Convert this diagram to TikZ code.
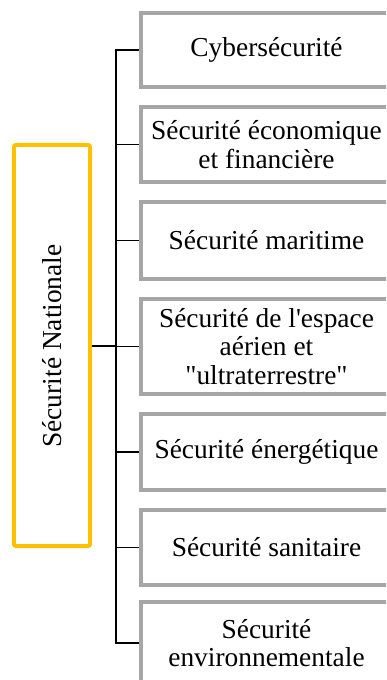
\documentclass[tikz,border=0pt]{standalone}
\usepackage{fontspec}
\setmainfont{Liberation Serif}[Ligatures=TeXOff]
\definecolor{boxgray}{HTML}{A6A6A6}
\definecolor{natyellow}{HTML}{FFC000}
\begin{document}
\begin{tikzpicture}[x=1bp,y=-1bp,
  secbox/.style={minimum width=270bp, inner sep=0pt, outer sep=0pt},
  boxline/.style={draw=boxgray, line width=4bp, line join=miter},
  sectext/.style={align=center, font=\fontsize{27.5}{28.5}\selectfont, text=black, inner sep=0pt},
  natbox/.style={draw=natyellow, line width=4bp, rounded corners=2bp, minimum width=76bp,
    minimum height=401bp, inner sep=0pt},
  conn/.style={draw=black, line width=1.1bp},
  mainconn/.style={draw=black, line width=2bp}]
\fill[white] (0,0) rectangle (386,680);
\useasboundingbox (0,0) rectangle (386,680);
\clip (0,0) rectangle (386,680);
\node[natbox] (nat) at (52,345.5) {};
\node[rotate=90, font=\fontsize{27.5}{28.5}\selectfont] (natlabel) at (52,346) {Sécurité Nationale};
\node[secbox, minimum height=74bp] (b1) at (276,50) {};
\node[secbox, minimum height=75bp] (b2) at (276,144.5) {};
\node[secbox, minimum height=77bp] (b3) at (276,240.5) {};
\node[secbox, minimum height=95bp] (b4) at (276,346.5) {};
\node[secbox, minimum height=76bp] (b5) at (276,452) {};
\node[secbox, minimum height=75bp] (b6) at (276,547.5) {};
\node[secbox, minimum height=82bp] (b7) at (276,643) {};
\foreach \b in {b1,b2,b3,b4,b5,b6,b7} {
  \draw[boxline] (\b.north east) -- (\b.north west) -- (\b.south west) -- (\b.south east);}
\node[sectext] (t1) at (266.5,50) {Cybersécurité};
\node[sectext] (t2) at (266.5,144.5) {Sécurité économique\\et financière};
\node[sectext] (t3) at (266.5,240.5) {Sécurité maritime};
\node[sectext] (t4) at (266.5,346.5) {Sécurité de l'espace\\aérien et\\"ultraterrestre"};
\node[sectext] (t5) at (266.5,452) {Sécurité énergétique};
\node[sectext] (t6) at (266.5,547.5) {Sécurité sanitaire};
\node[sectext] (t7) at (266.5,643) {Sécurité\\environnementale};
\coordinate (spine) at (116,0);
\draw[conn] ([xshift=-2bp]b1.west) -- (b1.west -| spine) |- ([xshift=-2bp]b7.west);
\foreach \b in {b2,b3,b4,b5,b6} {\draw[conn] ([xshift=-2bp]\b.west) -- (\b.west -| spine);}
\draw[mainconn] (nat.east) -- (nat.east -| spine);
\end{tikzpicture}
\end{document}
